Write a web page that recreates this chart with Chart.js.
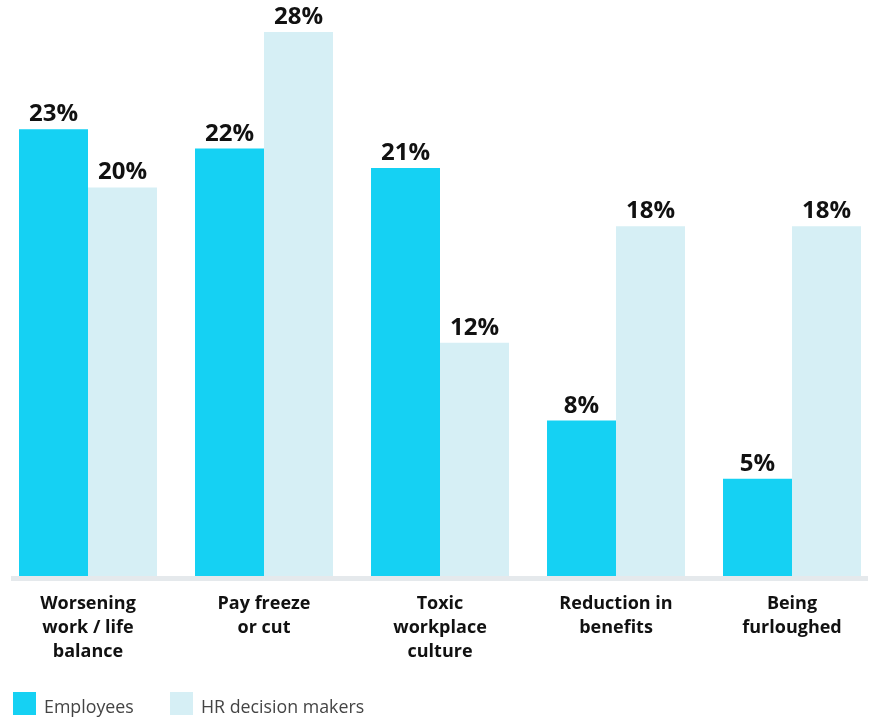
<!DOCTYPE html>
<html lang="en">
<head>
    <meta charset="UTF-8">
    <title>Concerns</title>
    <style>
        body {
            margin: 0;
            padding: 0;
            background: white;
            overflow: hidden;
        }
        .wrap {
            width: 880px;
            height: 719px;
        }
    </style>
    <script src="https://cdn.jsdelivr.net/npm/chart.js"></script>
</head>
<body>
    <div class="wrap">
        <canvas id="concernChart" width="880" height="719"></canvas>
    </div>

    <script>
        const categories = [
            ['Worsening', 'work / life', 'balance'],
            ['Pay freeze', 'or cut'],
            ['Toxic', 'workplace', 'culture'],
            ['Reduction in', 'benefits'],
            ['Being', 'furloughed']
        ];
        const employees = [23, 22, 21, 8, 5];
        const hrDecisionMakers = [20, 28, 12, 18, 18];
        const seriesNames = ['Employees', 'HR decision makers'];
        const seriesColors = ['#15D1F3', '#D6EFF5'];

        // value labels above each bar
        const valueLabels = {
            id: 'valueLabels',
            afterDatasetsDraw(chart) {
                const ctx = chart.ctx;
                ctx.save();
                ctx.font = 'bold 24px "Open Sans", sans-serif';
                ctx.fillStyle = '#111';
                ctx.textAlign = 'center';
                ctx.textBaseline = 'alphabetic';
                chart.data.datasets.forEach((ds, i) => {
                    chart.getDatasetMeta(i).data.forEach((bar, j) => {
                        ctx.fillText(ds.data[j] + '%', bar.x, bar.y - 8);
                    });
                });
                ctx.restore();
            }
        };

        // grey baseline under the bars + legend at the bottom
        const decorations = {
            id: 'decorations',
            afterDraw(chart) {
                const ctx = chart.ctx;
                const base = chart.chartArea.bottom;
                ctx.save();
                ctx.fillStyle = '#E5E9EC';
                ctx.fillRect(11, base, 857, 5);

                ctx.font = '17.8px "Open Sans", sans-serif';
                ctx.textBaseline = 'middle';
                let x = 13;
                chart.data.datasets.forEach((ds) => {
                    ctx.fillStyle = ds.backgroundColor;
                    ctx.fillRect(x, 692, 23, 23);
                    ctx.fillStyle = '#444';
                    ctx.fillText(ds.label, x + 31, 708);
                    x = 170;
                });
                ctx.restore();
            }
        };

        const ctx = document.getElementById('concernChart').getContext('2d');
        new Chart(ctx, {
            type: 'bar',
            data: {
                labels: categories,
                datasets: [
                    {
                        label: seriesNames[0],
                        data: employees,
                        backgroundColor: seriesColors[0]
                    },
                    {
                        label: seriesNames[1],
                        data: hrDecisionMakers,
                        backgroundColor: seriesColors[1]
                    }
                ]
            },
            options: {
                responsive: false,
                animation: false,
                datasets: {
                    bar: {
                        categoryPercentage: 0.784,
                        barPercentage: 1
                    }
                },
                layout: {
                    padding: { top: 32, bottom: 39, left: 0, right: 0 }
                },
                plugins: {
                    legend: { display: false },
                    tooltip: { enabled: false }
                },
                scales: {
                    x: {
                        grid: { display: false, drawTicks: false },
                        border: { display: false },
                        ticks: {
                            padding: 16,
                            color: '#111',
                            maxRotation: 0,
                            autoSkip: false,
                            font: {
                                family: '"Open Sans", sans-serif',
                                size: 18,
                                weight: 'bold',
                                lineHeight: '24px'
                            }
                        }
                    },
                    y: {
                        display: false,
                        min: 0,
                        max: 28
                    }
                }
            },
            plugins: [valueLabels, decorations]
        });
    </script>
</body>
</html>
